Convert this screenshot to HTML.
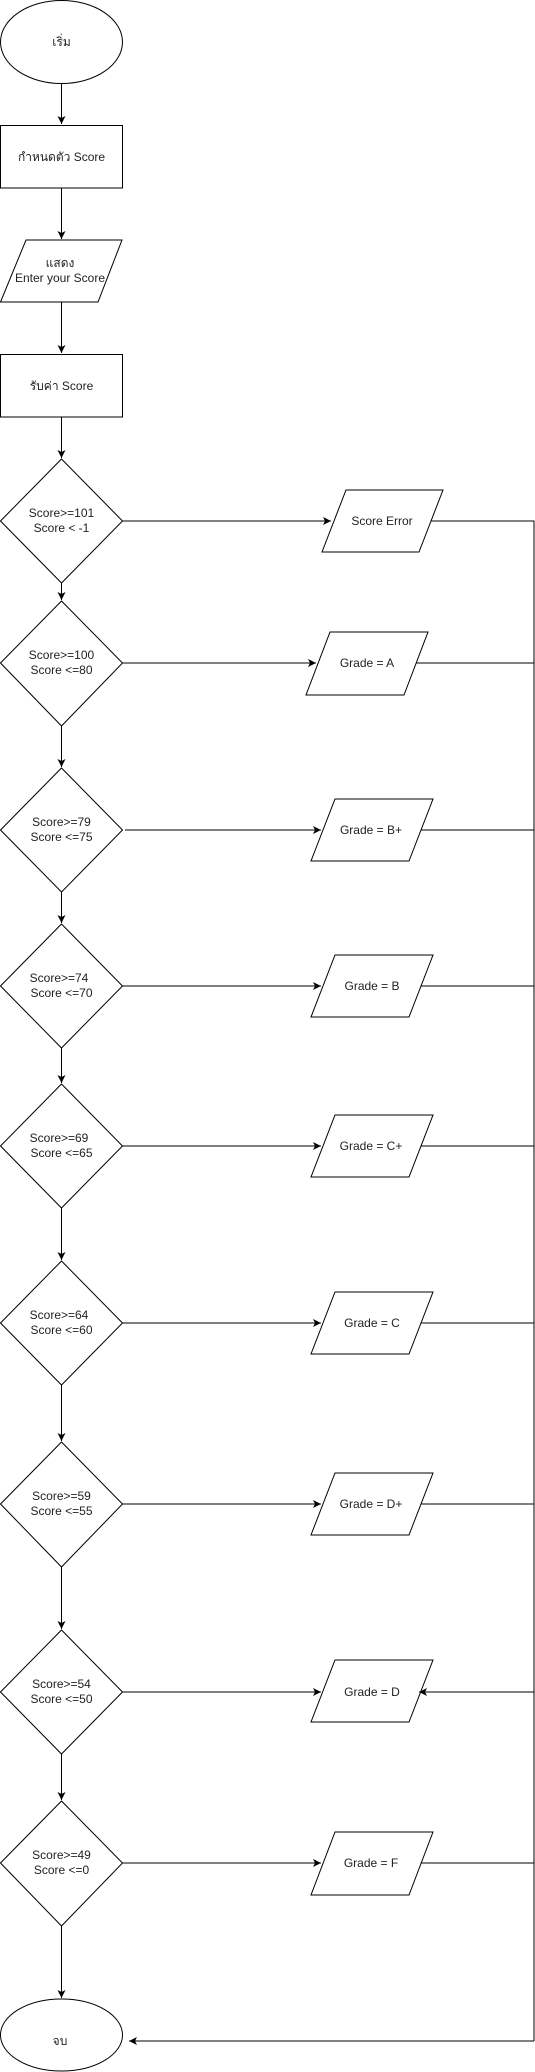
<!DOCTYPE html>
<html><head><meta charset="utf-8"><style>
html,body{margin:0;padding:0;background:#fff;}
svg{display:block;}
text{font-family:"Liberation Sans","Noto Sans CJK SC","WenQuanYi Zen Hei",sans-serif;font-size:12px;fill:#222;text-anchor:middle;}
</style></head><body>
<svg width="535" height="2072" viewBox="0 0 535 2072" xmlns="http://www.w3.org/2000/svg">
<defs>
<marker id="a" markerWidth="10" markerHeight="10" refX="8" refY="4" orient="auto" markerUnits="userSpaceOnUse">
<path d="M0,0 L8,4 L0,8 L2,4 Z" fill="#000"/>
</marker>
</defs>
<g fill="#fff" stroke="#000" stroke-width="1">
<ellipse cx="61.5" cy="42" rx="61" ry="41.5"/>
<rect x="0.5" y="125.5" width="122" height="62.5"/>
<polygon points="26,240 122,240 98,302 0.5,302"/>
<rect x="0.5" y="354.5" width="122" height="62.5"/>
<polygon points="61.5,459 122.5,521 61.5,583 0.5,521"/>
<polygon points="61.5,601 122.5,663 61.5,726 0.5,663"/>
<polygon points="61.5,768 122.5,830 61.5,892 0.5,830"/>
<polygon points="61.5,924 122.5,986 61.5,1031 0.5,986" style="display:none"/>
<polygon points="61.5,924 122.5,986 61.5,1048 0.5,986"/>
<polygon points="61.5,1084 122.5,1146 61.5,1208 0.5,1146"/>
<polygon points="61.5,1261 122.5,1323 61.5,1385 0.5,1323"/>
<polygon points="61.5,1442 122.5,1504 61.5,1567 0.5,1504"/>
<polygon points="61.5,1630 122.5,1692 61.5,1754 0.5,1692"/>
<polygon points="61.5,1801 122.5,1863 61.5,1926 0.5,1863"/>
<ellipse cx="61.5" cy="2035" rx="61" ry="36"/>
<polygon points="346,490 443,490 419,552 322,552"/>
<polygon points="330,632 428,632 404,695 306,695"/>
<polygon points="335,799 433,799 409,861 311,861"/>
<polygon points="335,955 433,955 409,1017 311,1017"/>
<polygon points="335,1115 433,1115 409,1177 311,1177"/>
<polygon points="335,1292 433,1292 409,1354 311,1354"/>
<polygon points="335,1473 433,1473 409,1535 311,1535"/>
<polygon points="335,1660 433,1660 409,1722 311,1722"/>
<polygon points="335,1832 433,1832 409,1895 311,1895"/>
</g>
<g stroke="#000" stroke-width="1" fill="none">
<line x1="61.5" y1="84" x2="61.5" y2="124" marker-end="url(#a)"/>
<line x1="61.5" y1="188" x2="61.5" y2="239" marker-end="url(#a)"/>
<line x1="61.5" y1="302" x2="61.5" y2="353" marker-end="url(#a)"/>
<line x1="61.5" y1="417" x2="61.5" y2="458" marker-end="url(#a)"/>
<line x1="61.5" y1="583" x2="61.5" y2="600" marker-end="url(#a)"/>
<line x1="61.5" y1="726" x2="61.5" y2="767" marker-end="url(#a)"/>
<line x1="61.5" y1="892" x2="61.5" y2="923" marker-end="url(#a)"/>
<line x1="61.5" y1="1048" x2="61.5" y2="1083" marker-end="url(#a)"/>
<line x1="61.5" y1="1208" x2="61.5" y2="1260" marker-end="url(#a)"/>
<line x1="61.5" y1="1385" x2="61.5" y2="1441" marker-end="url(#a)"/>
<line x1="61.5" y1="1567" x2="61.5" y2="1629" marker-end="url(#a)"/>
<line x1="61.5" y1="1754" x2="61.5" y2="1800" marker-end="url(#a)"/>
<line x1="61.5" y1="1926" x2="61.5" y2="1998" marker-end="url(#a)"/>
<line x1="122.5" y1="521" x2="331" y2="521" marker-end="url(#a)"/>
<line x1="122.5" y1="663" x2="316" y2="663" marker-end="url(#a)"/>
<line x1="125" y1="830" x2="321" y2="830" marker-end="url(#a)"/>
<line x1="122.5" y1="986" x2="321" y2="986" marker-end="url(#a)"/>
<line x1="122.5" y1="1146" x2="321" y2="1146" marker-end="url(#a)"/>
<line x1="122.5" y1="1323" x2="321" y2="1323" marker-end="url(#a)"/>
<line x1="122.5" y1="1504" x2="321" y2="1504" marker-end="url(#a)"/>
<line x1="122.5" y1="1692" x2="321" y2="1692" marker-end="url(#a)"/>
<line x1="122.5" y1="1863" x2="321" y2="1863" marker-end="url(#a)"/>
<line x1="431" y1="521" x2="534" y2="521"/>
<line x1="416" y1="663" x2="534" y2="663"/>
<line x1="421" y1="830" x2="534" y2="830"/>
<line x1="421" y1="986" x2="534" y2="986"/>
<line x1="421" y1="1146" x2="534" y2="1146"/>
<line x1="421" y1="1323" x2="534" y2="1323"/>
<line x1="421" y1="1504" x2="534" y2="1504"/>
<line x1="534" y1="1692" x2="419" y2="1692" marker-end="url(#a)"/>
<line x1="421" y1="1863" x2="534" y2="1863"/>
<line x1="534" y1="520.5" x2="534" y2="2041"/>
<line x1="534" y1="2041" x2="129" y2="2041" marker-end="url(#a)"/>
</g>
<text x="61.5" y="46">เริ่ม</text>
<text x="61.5" y="161">กำหนดตัว Score</text>
<text x="60" y="267">แสดง</text>
<text x="60" y="282">Enter your Score</text>
<text x="61.5" y="390">รับค่า Score</text>
<text x="61.5" y="517">Score&gt;=101</text><text x="61.5" y="532">Score &lt; -1</text>
<text x="61.5" y="659">Score&gt;=100</text><text x="61.5" y="674">Score &lt;=80</text>
<text x="61.5" y="826">Score&gt;=79</text><text x="61.5" y="841">Score &lt;=75</text>
<text x="59" y="982">Score&gt;=74</text><text x="61.5" y="997">Score &lt;=70</text>
<text x="59" y="1142">Score&gt;=69</text><text x="61.5" y="1157">Score &lt;=65</text>
<text x="59" y="1319">Score&gt;=64</text><text x="61.5" y="1334">Score &lt;=60</text>
<text x="61.5" y="1500">Score&gt;=59</text><text x="61.5" y="1515">Score &lt;=55</text>
<text x="61.5" y="1688">Score&gt;=54</text><text x="61.5" y="1703">Score &lt;=50</text>
<text x="61.5" y="1859">Score&gt;=49</text><text x="61.5" y="1874">Score &lt;=0</text>
<text x="60" y="2045">จบ</text>
<text x="382" y="525">Score Error</text>
<text x="367" y="667">Grade = A</text>
<text x="371" y="834">Grade = B+</text>
<text x="372" y="990">Grade = B</text>
<text x="371" y="1150">Grade = C+</text>
<text x="372" y="1327">Grade = C</text>
<text x="371" y="1508">Grade = D+</text>
<text x="372" y="1696">Grade = D</text>
<text x="371" y="1867">Grade = F</text>
</svg>
</body></html>
